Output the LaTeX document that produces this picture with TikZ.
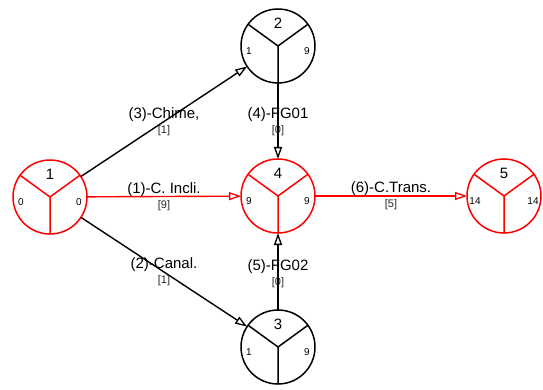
\documentclass[tikz,border=0pt]{standalone}
\usepackage{fontspec}
\setmainfont{Liberation Sans}
\usetikzlibrary{arrows.meta}
\tikzset{
  evcirc/.style={circle,minimum size=74pt,inner sep=0pt,outer sep=0pt,line width=1.5pt,fill=white},
  evnum/.style={font=\fontsize{15}{15}\selectfont,inner sep=0pt},
  evsmall/.style={font=\fontsize{10}{10}\selectfont,inner sep=0pt},
  edge/.style={line width=1.4pt,-{Triangle[open,length=12pt,width=8pt,line width=1.3pt]}},
  elab/.style={font=\fontsize{15}{15}\selectfont,inner sep=0pt,yshift=7pt},
  esub/.style={font=\fontsize{11}{11}\selectfont,inner sep=0pt,yshift=-9pt,text=black!85},
}
\newcommand\evnode[6]{%
  \node[evcirc,draw=#3] (#1) at (#2) {};
  \draw[#3,line width=1.5pt] (#1.center) -- (#1.144) (#1.center) -- (#1.36) (#1.center) -- (#1.270);
  \node[evnum] (#1t) at ([yshift=23pt]#1.center) {#4};
  \node[evsmall] (#1l) at ([xshift=-29pt,yshift=-5pt]#1.center) {#5};
  \node[evsmall] (#1r) at ([xshift=29pt,yshift=-5pt]#1.center) {#6};
}
\begin{document}
\begin{tikzpicture}[x=1pt,y=-1pt]
\useasboundingbox (0,0) rectangle (543,390);
\evnode{n1}{50,197}{red}{1}{0}{0}
\evnode{n2}{278,46}{black}{2}{1}{9}
\evnode{n3}{278,347}{black}{3}{1}{9}
\evnode{n4}{278,196}{red}{4}{9}{9}
\evnode{n5}{504,196}{red}{5}{14}{14}
\draw[edge,black] (n1) -- node[elab] (l3) {(3)-Chime,} node[esub] (s3) {[1]} (n2);
\draw[edge,red] (n1) -- node[elab,text=black] (l1) {(1)-C. Incli.} node[esub] (s1) {[9]} (n4);
\draw[edge,black] (n1) -- node[elab] (l2) {(2)-Canal.} node[esub] (s2) {[1]} (n3);
\draw[edge,black] (n2) -- node[elab,yshift=-1pt] (l4) {(4)-FG01} node[esub,yshift=-1pt] (s4) {[0]} (n4);
\draw[edge,black] (n3) -- node[elab,yshift=-2pt] (l5) {(5)-FG02} node[esub,yshift=-2pt] (s5) {[0]} (n4);
\draw[edge,red] (n4) -- node[elab,text=black] (l6) {(6)-C.Trans.} node[esub] (s6) {[5]} (n5);
\end{tikzpicture}
\end{document}
